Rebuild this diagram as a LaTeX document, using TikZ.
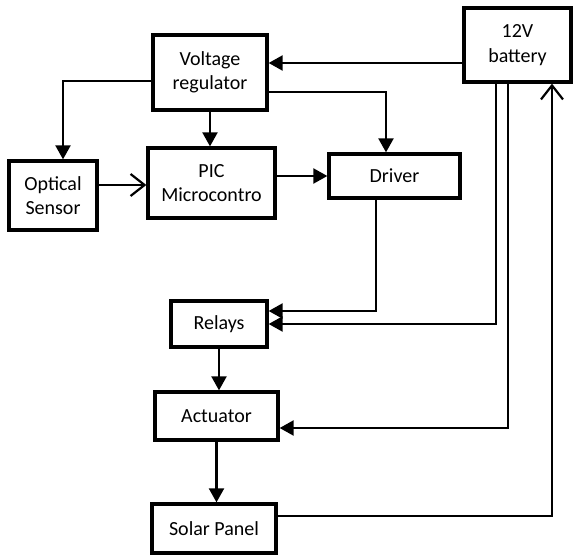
\documentclass[tikz,border=0pt]{standalone}
\usepackage{fontspec}
\setmainfont{Carlito}
\usetikzlibrary{arrows.meta}

\tikzset{
    blk/.style={draw, line width=3.3pt, align=center, inner sep=0pt,
        font=\fontsize{20}{24.4}\selectfont},
    arr/.style={line width=2.2pt, -{Triangle[length=14pt,width=15pt]}},
    oarr/.style={line width=2.2pt, -{Straight Barb[length=14pt,width=22pt,line width=2.2pt]}}
}

\begin{document}
\begin{tikzpicture}[x=1pt, y=-1pt]
    \useasboundingbox (0,0) rectangle (573,556);

    % blocks
    \node[blk, minimum width=114pt, minimum height=75pt] (vr) at (210, 72.5) {Voltage\\regulator};
    \node[blk, minimum width=127pt, minimum height=70pt] (pic) at (211.5, 183) {PIC\\Microcontro};
    \node[blk, minimum width=88pt, minimum height=69pt] (opt) at (53, 195.5) {Optical\\Sensor};
    \node[blk, minimum width=107pt, minimum height=74pt] (bat) at (517.5, 45) {12V\\battery};
    \node[blk, minimum width=131pt, minimum height=44pt] (drv) at (394.5, 176) {Driver};
    \node[blk, minimum width=96pt, minimum height=46pt] (rel) at (219, 324) {Relays};
    \node[blk, minimum width=123pt, minimum height=48pt] (act) at (216.5, 416) {Actuator};
    \node[blk, minimum width=124pt, minimum height=49pt] (sol) at (214, 528.5) {Solar Panel};

    % supply from the battery
    \draw[arr] ([yshift=-18pt]bat.west) -- ([yshift=9.5pt]vr.east);
    \draw[arr] ([xshift=-21.5pt]bat.south) |- (rel.east);
    \draw[arr] ([xshift=-9.5pt]bat.south) |- ([yshift=-12pt]act.east);

    % regulated supply
    \draw[arr] ([yshift=-19.5pt]vr.east) -| ([xshift=-8.5pt]drv.north);
    \draw[arr] ([yshift=-8.5pt]vr.west) -| ([xshift=10pt]opt.north);
    \draw[arr] (vr.south) -- (vr.south |- pic.north);

    % signals
    \draw[oarr] ([yshift=10.5pt]opt.east) -- ([yshift=-2pt]pic.west);
    \draw[arr] (pic.east |- drv.west) -- (drv.west);
    \draw[arr] ([xshift=-18.5pt]drv.south) |- ([yshift=13pt]rel.east);
    \draw[arr] (rel.south) -- (rel.south |- act.north);
    \draw[arr] (act.south) -- (act.south |- sol.north);

    % charging
    \draw[oarr] ([yshift=12.5pt]sol.east) -| ([xshift=34.5pt]bat.south);
\end{tikzpicture}
\end{document}
